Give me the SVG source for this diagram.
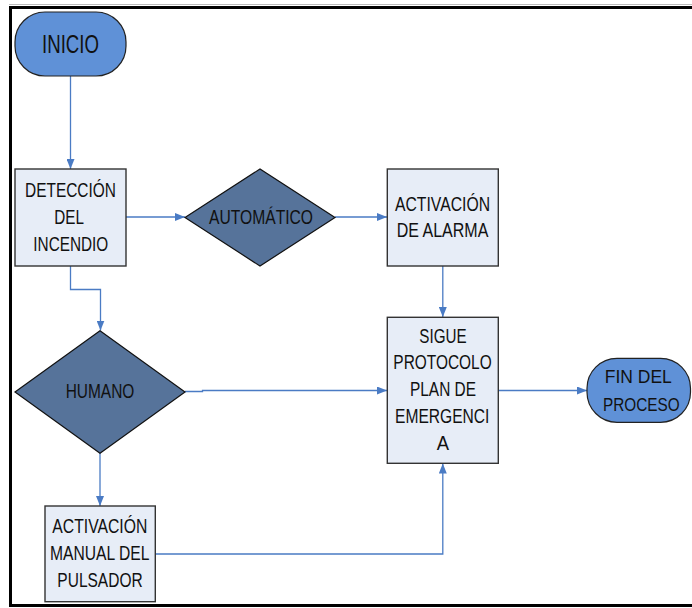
<svg xmlns="http://www.w3.org/2000/svg" width="692" height="608" viewBox="0 0 692 608">
<defs>
<marker id="arr" viewBox="0 0 10 8" refX="10" refY="4" markerWidth="10" markerHeight="8" markerUnits="userSpaceOnUse" orient="auto">
<path d="M0,0 L10,4 L0,8 Z" fill="#4a7bc4"/>
</marker>
<style>
.t{font-family:"Liberation Sans",Arial,sans-serif;font-size:20.5px;fill:#111;text-anchor:middle}
.box{fill:#e7edf7;stroke:#333;stroke-width:1.4}
.dia{fill:#56739a;stroke:#111;stroke-width:1.2}
.term{fill:#5f91d7;stroke:#222;stroke-width:1.2}
.c{fill:none;stroke:#4a7bc4;stroke-width:1.3;marker-end:url(#arr)}
</style>
</defs>
<rect width="692" height="608" fill="#fff"/>
<path d="M692,7.5 H10.5 V605.5 H692" fill="none" stroke="#000" stroke-width="3"/>
<path d="M692,4.5 H9" fill="none" stroke="#bbb" stroke-width="1"/>

<g id="connectors">
<path class="c" d="M70.5,76 V169"/>
<path class="c" d="M126,217 H185"/>
<path class="c" d="M335,217 H387"/>
<path class="c" d="M442.8,266 V317"/>
<path class="c" d="M70.5,266 V289.5 H100.5 V330.5"/>
<path class="c" d="M185,391.5 H202.5 V390.5 H387"/>
<path class="c" d="M498,390.5 H587"/>
<path class="c" d="M100,453 V506"/>
<path class="c" d="M155,554 H442.8 V463.5"/>
</g>

<g id="inicio">
<rect class="term" x="15" y="12" width="111" height="64" rx="30" ry="30"/>
<text class="t" x="70.5" y="53" style="font-size:26.5px" textLength="57" lengthAdjust="spacingAndGlyphs">INICIO</text>
</g>

<g id="deteccion">
<rect class="box" x="15" y="169" width="111" height="97"/>
<text class="t" x="70.5" y="197" textLength="91" lengthAdjust="spacingAndGlyphs">DETECCIÓN</text>
<text class="t" x="69.2" y="224" textLength="29.7" lengthAdjust="spacingAndGlyphs">DEL</text>
<text class="t" x="70.8" y="250.7" textLength="75" lengthAdjust="spacingAndGlyphs">INCENDIO</text>
</g>

<g id="automatico">
<polygon class="dia" points="185,217.5 260,169 335,217.5 260,266"/>
<text class="t" x="261" y="224" style="font-size:19.5px" textLength="104" lengthAdjust="spacingAndGlyphs">AUTOMÁTICO</text>
</g>

<g id="alarma">
<rect class="box" x="387.3" y="169" width="111" height="97"/>
<text class="t" x="442.5" y="210.7" textLength="95" lengthAdjust="spacingAndGlyphs">ACTIVACIÓN</text>
<text class="t" x="442.5" y="237.3" textLength="91.7" lengthAdjust="spacingAndGlyphs">DE ALARMA</text>
</g>

<g id="humano">
<polygon class="dia" points="15,392 100,330.7 185,392 100,453.3"/>
<text class="t" x="100" y="398.3" textLength="68.7" lengthAdjust="spacingAndGlyphs">HUMANO</text>
</g>

<g id="sigue">
<rect class="box" x="387.3" y="317.3" width="111" height="146"/>
<text class="t" x="443" y="342.7" textLength="47.3" lengthAdjust="spacingAndGlyphs">SIGUE</text>
<text class="t" x="442.5" y="369.3" textLength="98.3" lengthAdjust="spacingAndGlyphs">PROTOCOLO</text>
<text class="t" x="443" y="396" textLength="66" lengthAdjust="spacingAndGlyphs">PLAN DE</text>
<text class="t" x="442.2" y="423.3" textLength="94.3" lengthAdjust="spacingAndGlyphs">EMERGENCI</text>
<text class="t" x="442.8" y="450" textLength="12.3" lengthAdjust="spacingAndGlyphs">A</text>
</g>

<g id="fin">
<rect class="term" x="587" y="358.3" width="103.5" height="64" rx="30" ry="30"/>
<text class="t" x="638.3" y="383.3" style="font-size:19px" textLength="67" lengthAdjust="spacingAndGlyphs">FIN DEL</text>
<text class="t" x="641.3" y="411" style="font-size:19px" textLength="76.7" lengthAdjust="spacingAndGlyphs">PROCESO</text>
</g>

<g id="manual">
<rect class="box" x="45" y="506" width="110.3" height="95.7"/>
<text class="t" x="99.8" y="533.3" textLength="95" lengthAdjust="spacingAndGlyphs">ACTIVACIÓN</text>
<text class="t" x="99.7" y="560" textLength="99.3" lengthAdjust="spacingAndGlyphs">MANUAL DEL</text>
<text class="t" x="100" y="586.7" textLength="85.3" lengthAdjust="spacingAndGlyphs">PULSADOR</text>
</g>
</svg>
